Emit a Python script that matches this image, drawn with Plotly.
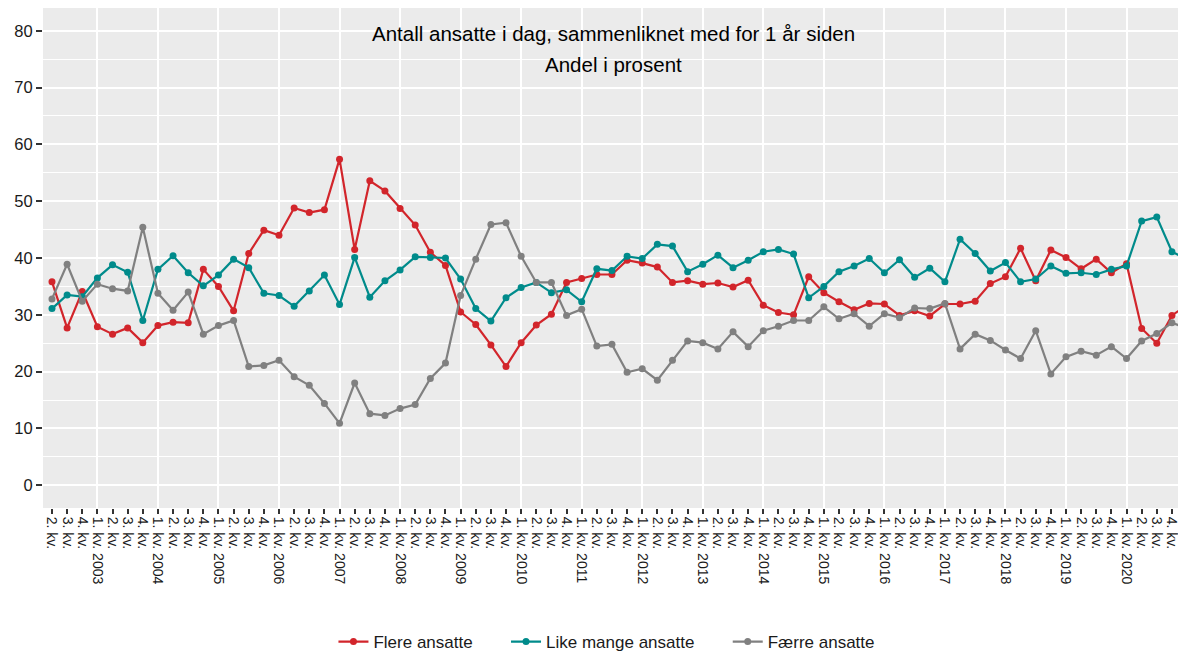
import plotly.graph_objects as go

# Quarterly periods from 2. kv. 2002 to 1. kv. 2021
quarters = [((i + 1) % 4) + 1 for i in range(76)]
years = [2002 + (i + 1) // 4 for i in range(76)]
tick_labels = [f"{q}. kv. {y}" if q == 1 else f"{q}. kv." for q, y in zip(quarters, years)]

flere = [35.8, 27.7, 34.1, 27.9, 26.6, 27.7, 25.1, 28.1, 28.7, 28.6,
         38.0, 35.0, 30.7, 40.8, 44.9, 44.0, 48.8, 48.0, 48.5, 57.4,
         41.5, 53.6, 51.8, 48.7, 45.8, 41.0, 38.7, 30.5, 28.3, 24.7,
         20.9, 25.1, 28.2, 30.1, 35.7, 36.4, 37.1, 37.1, 39.6, 39.1,
         38.4, 35.7, 36.0, 35.4, 35.6, 34.9, 36.1, 31.7, 30.4, 30.0,
         36.7, 33.9, 32.3, 30.9, 32.0, 31.9, 29.9, 30.7, 29.8, 31.9,
         31.9, 32.4, 35.5, 36.7, 41.7, 36.0, 41.4, 40.1, 38.1, 39.8,
         37.4, 39.0, 27.6, 25.0, 29.9, 31.7]

like_mange = [31.1, 33.5, 33.2, 36.5, 38.8, 37.5, 29.0, 38.0, 40.4, 37.4,
              35.1, 37.0, 39.8, 38.3, 33.8, 33.4, 31.5, 34.2, 37.0, 31.8,
              40.1, 33.1, 36.0, 37.9, 40.2, 40.1, 40.0, 36.3, 31.1, 28.9,
              33.0, 34.8, 35.7, 33.9, 34.4, 32.3, 38.1, 37.8, 40.3, 39.9,
              42.4, 42.1, 37.6, 38.9, 40.5, 38.3, 39.6, 41.1, 41.5, 40.7,
              33.0, 35.0, 37.6, 38.6, 39.9, 37.4, 39.7, 36.6, 38.2, 35.8,
              43.3, 40.8, 37.7, 39.2, 35.8, 36.3, 38.6, 37.3, 37.4, 37.1,
              38.0, 38.6, 46.5, 47.2, 41.1, 39.8]

faerre = [32.8, 38.9, 32.4, 35.4, 34.6, 34.2, 45.4, 33.8, 30.8, 34.0,
          26.6, 28.1, 29.0, 20.9, 21.1, 22.0, 19.1, 17.6, 14.4, 10.9,
          18.0, 12.6, 12.3, 13.5, 14.2, 18.8, 21.5, 33.4, 39.8, 45.9,
          46.2, 40.3, 35.7, 35.7, 29.9, 31.0, 24.5, 24.8, 19.9, 20.5,
          18.5, 22.0, 25.4, 25.1, 24.0, 27.0, 24.4, 27.2, 28.0, 29.0,
          29.0, 31.4, 29.3, 30.2, 28.0, 30.2, 29.5, 31.2, 31.1, 32.0,
          24.0, 26.6, 25.5, 23.8, 22.3, 27.2, 19.6, 22.6, 23.6, 22.9,
          24.4, 22.3, 25.4, 26.7, 28.6, 27.6]

series_names = ["Flere ansatte", "Like mange ansatte", "Færre ansatte"]
series_colors = ["#D2252B", "#008B8B", "#808080"]
y_ticks = [0, 10, 20, 30, 40, 50, 60, 70, 80]

x_idx = list(range(len(tick_labels)))
year_idx = [i for i, q in enumerate(quarters) if q == 1]

FONT = "Liberation Sans, Arial, sans-serif"
PAD = "\u00a0" * 6  # extra spacing between legend entries

fig = go.Figure()
for k, (name, vals, col) in enumerate(zip(series_names, [flere, like_mange, faerre], series_colors)):
    fig.add_trace(go.Scatter(
        x=x_idx, y=vals, name=name + (PAD if k < len(series_names) - 1 else ""),
        mode="lines+markers",
        line=dict(color=col, width=2.2),
        marker=dict(color=col, size=7),
        cliponaxis=True,
    ))

# invisible trace to activate overlay axis for yearly gridlines
fig.add_trace(go.Scatter(x=[year_idx[0]], y=[0], xaxis="x2", mode="markers",
                         marker=dict(opacity=0), showlegend=False, hoverinfo="skip"))

xr = [-0.594, 74.93]
fig.update_layout(
    width=1178, height=646, autosize=False,
    margin=dict(l=35, r=0, t=0, b=146, autoexpand=False),
    paper_bgcolor="white", plot_bgcolor="#EBEBEB",
    font=dict(family=FONT, color="#1A1A1A"),
    xaxis=dict(
        range=xr, tickmode="array", tickvals=x_idx, ticktext=tick_labels,
        tickangle=90, showgrid=False, zeroline=False, automargin=False,
        ticks="outside", ticklen=5, tickwidth=1.5, tickcolor="#333333",
        tickfont=dict(size=14, family=FONT, color="#1A1A1A"),
        showline=False,
    ),
    xaxis2=dict(
        range=xr, overlaying="x", side="bottom", tickmode="array",
        tickvals=year_idx, showticklabels=False, ticks="", automargin=False,
        showgrid=True, gridcolor="white", gridwidth=2, zeroline=False,
    ),
    yaxis=dict(
        range=[-4, 84], tickmode="array", tickvals=y_ticks, automargin=False,
        showgrid=True, gridcolor="white", gridwidth=2, zeroline=False,
        minor=dict(dtick=5, tick0=0, showgrid=True, gridcolor="white", gridwidth=1),
        ticks="outside", ticklen=6, tickwidth=1.5, tickcolor="#333333",
        tickfont=dict(size=16.5, family=FONT, color="#1A1A1A"),
    ),
    legend=dict(
        orientation="h", x=0.4934, xanchor="center", y=-0.268, yanchor="middle",
        font=dict(size=17, family=FONT, color="#1A1A1A"),
        bgcolor="rgba(0,0,0,0)",
    ),
    annotations=[
        dict(text="Antall ansatte i dag, sammenliknet med for 1 år siden",
             xref="paper", yref="paper", x=0.4987, y=0.95,
             xanchor="center", yanchor="middle", showarrow=False,
             font=dict(size=20.5, family=FONT, color="black")),
        dict(text="Andel i prosent",
             xref="paper", yref="paper", x=0.4987, y=0.886,
             xanchor="center", yanchor="middle", showarrow=False,
             font=dict(size=20.5, family=FONT, color="black")),
    ],
)

fig.write_html("out.html")
